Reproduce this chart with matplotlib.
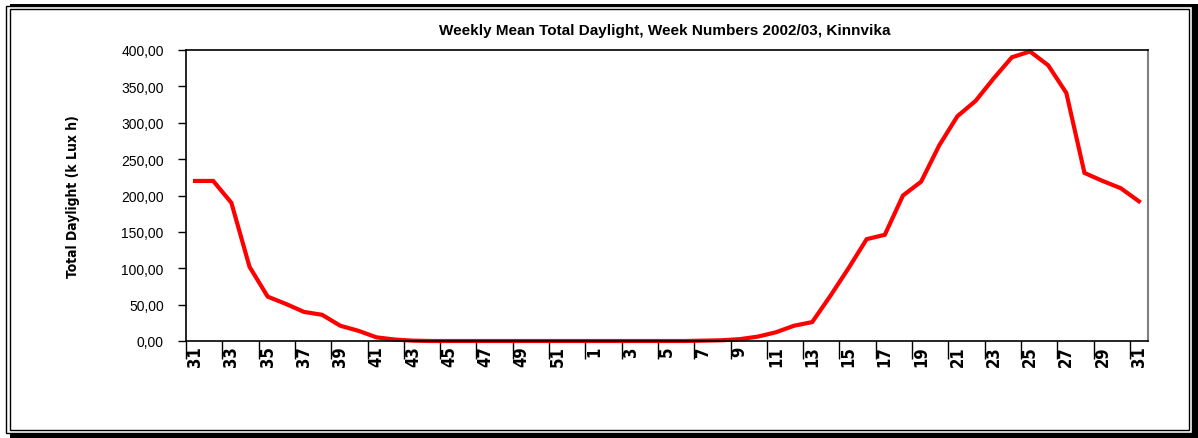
import matplotlib.pyplot as plt
from matplotlib.patches import Rectangle

# week numbers, 2002 weeks 31-52 then 2003 weeks 1-31
weeks = [31, 32, 33, 34, 35, 36, 37, 38, 39, 40, 41, 42, 43, 44, 45, 46, 47, 48, 49, 50, 51, 52,
         1, 2, 3, 4, 5, 6, 7, 8, 9, 10, 11, 12, 13, 14, 15, 16, 17, 18, 19, 20, 21, 22, 23, 24, 25,
         26, 27, 28, 29, 30, 31]
# weekly mean total daylight (k Lux h)
daylight = [220, 220, 190, 102, 61, 51, 40, 36, 21, 14, 5, 2, 0.5, 0, 0, 0, 0, 0, 0, 0, 0, 0,
            0, 0, 0, 0, 0, 0, 0.5, 1, 2.5, 6, 12, 21, 26, 62, 100, 140, 146, 200, 219, 269, 309,
            330, 361, 390, 398, 379, 341, 231, 220, 210, 192]
y_ticks = [0, 50, 100, 150, 200, 250, 300, 350, 400]

fig = plt.figure(figsize=(11.98, 4.39), dpi=100)
W, H = 1198, 439

# double frame with drop shadow (behind the axes)
fig.patches.append(Rectangle((10 / W, 0), 1188 / W, 434 / H,
                             transform=fig.transFigure, facecolor='black', edgecolor='none', zorder=-3))
fig.patches.append(Rectangle((6 / W, 1 - 434 / H), 1186 / W, 427 / H,
                             transform=fig.transFigure, facecolor='white', edgecolor='black', lw=1,
                             zorder=-2))
fig.patches.append(Rectangle((9.5 / W, 1 - 431 / H), 1179 / W, 421 / H,
                             transform=fig.transFigure, facecolor='none', edgecolor='black', lw=1,
                             zorder=-1))

ax = fig.add_axes([186 / W, 1 - 342 / H, 962 / W, 291 / H])
ax.patch.set_alpha(0)
x = list(range(len(weeks)))
ax.plot(x, daylight, color='#ff0000', lw=3, solid_joinstyle='miter', clip_on=False)

ax.set_xlim(-0.5, len(weeks) - 0.5)
ax.set_ylim(0, 400)

ax.set_yticks(y_ticks)
ax.set_yticklabels([('%.2f' % v).replace('.', ',') for v in y_ticks], fontsize=10,
                   family='Liberation Sans')
ax.tick_params(axis='y', direction='out', length=6, width=1, pad=10)

# labels at every other week, ticks between categories
ax.set_xticks(x[::2])
ax.set_xticklabels([str(w) for w in weeks[::2]], rotation=90, fontsize=12,
                   family='DejaVu Sans', fontstretch='condensed', fontweight='bold')
ax.tick_params(axis='x', which='major', length=0, pad=3)
ax.set_xticks([i - 0.5 for i in x[::2]], minor=True)
ax.tick_params(axis='x', which='minor', direction='out', length=13, width=1)

for s in ['left', 'bottom', 'top']:
    ax.spines[s].set_linewidth(1.2)
ax.spines['right'].set_color('#808080')
ax.spines['right'].set_linewidth(1.5)

fig.text(665 / W, 1 - 31 / H, 'Weekly Mean Total Daylight, Week Numbers 2002/03, Kinnvika',
         ha='center', va='center', fontsize=11, fontweight='bold', family='Liberation Sans')
fig.text(73 / W, 1 - 197 / H, 'Total Daylight (k Lux h)', rotation=90, ha='center', va='center',
         fontsize=10, fontweight='bold', family='DejaVu Sans', fontstretch='condensed')

fig.savefig('out.png', dpi=100)
